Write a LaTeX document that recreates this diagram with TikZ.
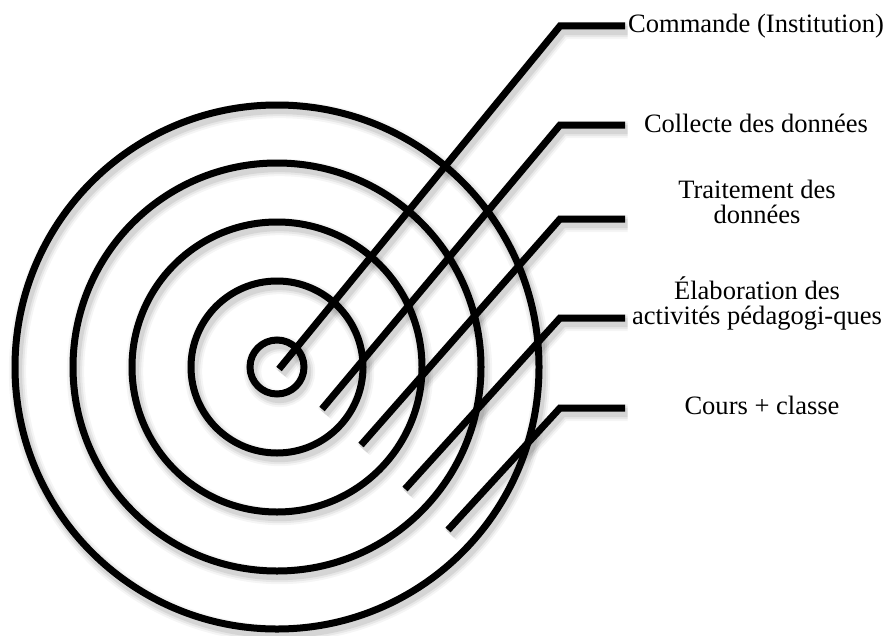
\documentclass[tikz,border=0pt]{standalone}
\usepackage{fontspec}
\setmainfont{Liberation Serif}
\begin{document}
\begin{tikzpicture}[x=0.75pt,y=-0.75pt,
  lbl/.style={font=\fontsize{19.9}{18.75}\selectfont, align=center, inner sep=0pt, anchor=base}]
\useasboundingbox (0,0) rectangle (887,635);
% centre of the target
\coordinate (C) at (277,367);
% leader lines: start, bend, end
\coordinate (s1) at (279,369); \coordinate (b1) at (560,26);  \coordinate (e1) at (625,26);
\coordinate (s2) at (322,409); \coordinate (b2) at (560,125); \coordinate (e2) at (625,125);
\coordinate (s3) at (361,445); \coordinate (b3) at (560,219); \coordinate (e3) at (625,219);
\coordinate (s4) at (405,489); \coordinate (b4) at (560,318); \coordinate (e4) at (625,318);
\coordinate (s5) at (448,530); \coordinate (b5) at (560,408); \coordinate (e5) at (625,408);
\newcommand\figpaths{%
  \foreach \r in {27,86,145,204,262} {\draw (C) circle[radius=\r];}
  \draw (s1) -- (b1) -- (e1);
  \draw (s2) -- (b2) -- (e2);
  \draw (s3) -- (b3) -- (e3);
  \draw (s4) -- (b4) -- (e4);
  \draw (s5) -- (b5) -- (e5);
}
% soft drop shadow
\begin{scope}[transform canvas={shift={(2.5,4.5)}}, line width=13pt, draw opacity=0.04]\figpaths\end{scope}
\begin{scope}[transform canvas={shift={(2.5,4.5)}}, line width=10pt, draw opacity=0.06]\figpaths\end{scope}
\begin{scope}[transform canvas={shift={(2.5,4.5)}}, line width=7pt, draw opacity=0.08]\figpaths\end{scope}
% main strokes
\begin{scope}[line width=5.25pt, black]\figpaths\end{scope}
% labels
\node[lbl] (n1) at (756,33)  {Commande (Institution)};
\node[lbl] (n2) at (756,132) {Collecte des données};
\node[lbl] (n3) at (757,223) {Traitement des\\données};
\node[lbl] (n4) at (757,324) {Élaboration des\\activités pédagogi-ques};
\node[lbl] (n5) at (762,414) {Cours + classe};
\end{tikzpicture}
\end{document}
